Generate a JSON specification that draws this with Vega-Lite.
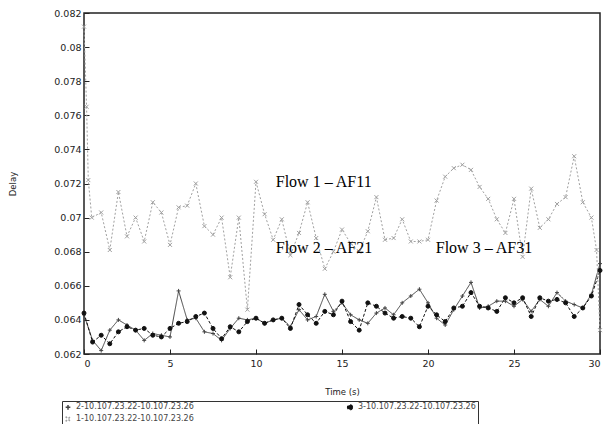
{
  "$schema": "https://vega.github.io/schema/vega-lite/v6.json",
  "width": 516,
  "height": 341,
  "autosize": {"type": "none"},
  "padding": {"left": 84, "top": 13, "right": 14, "bottom": 70},
  "background": "white",
  "config": {
    "view": {"stroke": "#222", "strokeWidth": 1.5},
    "axis": {"domain": false, "grid": false, "labelFont": "DejaVu Sans", "labelFontSize": 9.5, "labelColor": "#222", "labelOverlap": false, "labelSeparation": 0, "tickColor": "#222", "tickSize": -5, "tickWidth": 1, "titleFont": "DejaVu Sans", "titleFontSize": 8.5, "titleFontWeight": "normal", "titleColor": "#222"},
    "legend": {"labelFont": "DejaVu Sans", "labelFontSize": 8, "labelColor": "#444"}
  },
  "datasets": {
    "flows": [
      {"t": 0, "v": 0.0643, "s": "2-10.107.23.22-10.107.23.26"},
      {"t": 0.5, "v": 0.0628, "s": "2-10.107.23.22-10.107.23.26"},
      {"t": 1.0, "v": 0.0622, "s": "2-10.107.23.22-10.107.23.26"},
      {"t": 1.5, "v": 0.0634, "s": "2-10.107.23.22-10.107.23.26"},
      {"t": 2.0, "v": 0.0640, "s": "2-10.107.23.22-10.107.23.26"},
      {"t": 2.5, "v": 0.0637, "s": "2-10.107.23.22-10.107.23.26"},
      {"t": 3.0, "v": 0.0634, "s": "2-10.107.23.22-10.107.23.26"},
      {"t": 3.5, "v": 0.0628, "s": "2-10.107.23.22-10.107.23.26"},
      {"t": 4.0, "v": 0.0632, "s": "2-10.107.23.22-10.107.23.26"},
      {"t": 4.5, "v": 0.0631, "s": "2-10.107.23.22-10.107.23.26"},
      {"t": 5.0, "v": 0.0630, "s": "2-10.107.23.22-10.107.23.26"},
      {"t": 5.5, "v": 0.0657, "s": "2-10.107.23.22-10.107.23.26"},
      {"t": 6.0, "v": 0.0640, "s": "2-10.107.23.22-10.107.23.26"},
      {"t": 6.5, "v": 0.0641, "s": "2-10.107.23.22-10.107.23.26"},
      {"t": 7.0, "v": 0.0633, "s": "2-10.107.23.22-10.107.23.26"},
      {"t": 7.5, "v": 0.0632, "s": "2-10.107.23.22-10.107.23.26"},
      {"t": 8.0, "v": 0.0628, "s": "2-10.107.23.22-10.107.23.26"},
      {"t": 8.5, "v": 0.0635, "s": "2-10.107.23.22-10.107.23.26"},
      {"t": 9.0, "v": 0.0641, "s": "2-10.107.23.22-10.107.23.26"},
      {"t": 9.5, "v": 0.0640, "s": "2-10.107.23.22-10.107.23.26"},
      {"t": 10.0, "v": 0.0641, "s": "2-10.107.23.22-10.107.23.26"},
      {"t": 10.5, "v": 0.0638, "s": "2-10.107.23.22-10.107.23.26"},
      {"t": 11.0, "v": 0.0640, "s": "2-10.107.23.22-10.107.23.26"},
      {"t": 11.5, "v": 0.0641, "s": "2-10.107.23.22-10.107.23.26"},
      {"t": 12.0, "v": 0.0636, "s": "2-10.107.23.22-10.107.23.26"},
      {"t": 12.5, "v": 0.0646, "s": "2-10.107.23.22-10.107.23.26"},
      {"t": 13.0, "v": 0.0640, "s": "2-10.107.23.22-10.107.23.26"},
      {"t": 13.5, "v": 0.0642, "s": "2-10.107.23.22-10.107.23.26"},
      {"t": 14.0, "v": 0.0655, "s": "2-10.107.23.22-10.107.23.26"},
      {"t": 14.5, "v": 0.0645, "s": "2-10.107.23.22-10.107.23.26"},
      {"t": 15.0, "v": 0.0650, "s": "2-10.107.23.22-10.107.23.26"},
      {"t": 15.5, "v": 0.0643, "s": "2-10.107.23.22-10.107.23.26"},
      {"t": 16.0, "v": 0.0640, "s": "2-10.107.23.22-10.107.23.26"},
      {"t": 16.5, "v": 0.0638, "s": "2-10.107.23.22-10.107.23.26"},
      {"t": 17.0, "v": 0.0644, "s": "2-10.107.23.22-10.107.23.26"},
      {"t": 17.5, "v": 0.0647, "s": "2-10.107.23.22-10.107.23.26"},
      {"t": 18.0, "v": 0.0643, "s": "2-10.107.23.22-10.107.23.26"},
      {"t": 18.5, "v": 0.0650, "s": "2-10.107.23.22-10.107.23.26"},
      {"t": 19.0, "v": 0.0654, "s": "2-10.107.23.22-10.107.23.26"},
      {"t": 19.5, "v": 0.0658, "s": "2-10.107.23.22-10.107.23.26"},
      {"t": 20.0, "v": 0.0650, "s": "2-10.107.23.22-10.107.23.26"},
      {"t": 20.5, "v": 0.0641, "s": "2-10.107.23.22-10.107.23.26"},
      {"t": 21.0, "v": 0.0637, "s": "2-10.107.23.22-10.107.23.26"},
      {"t": 21.5, "v": 0.0646, "s": "2-10.107.23.22-10.107.23.26"},
      {"t": 22.0, "v": 0.0654, "s": "2-10.107.23.22-10.107.23.26"},
      {"t": 22.5, "v": 0.0662, "s": "2-10.107.23.22-10.107.23.26"},
      {"t": 23.0, "v": 0.0647, "s": "2-10.107.23.22-10.107.23.26"},
      {"t": 23.5, "v": 0.0648, "s": "2-10.107.23.22-10.107.23.26"},
      {"t": 24.0, "v": 0.0651, "s": "2-10.107.23.22-10.107.23.26"},
      {"t": 24.5, "v": 0.0651, "s": "2-10.107.23.22-10.107.23.26"},
      {"t": 25.0, "v": 0.0648, "s": "2-10.107.23.22-10.107.23.26"},
      {"t": 25.5, "v": 0.0652, "s": "2-10.107.23.22-10.107.23.26"},
      {"t": 26.0, "v": 0.0645, "s": "2-10.107.23.22-10.107.23.26"},
      {"t": 26.5, "v": 0.0652, "s": "2-10.107.23.22-10.107.23.26"},
      {"t": 27.0, "v": 0.0648, "s": "2-10.107.23.22-10.107.23.26"},
      {"t": 27.5, "v": 0.0656, "s": "2-10.107.23.22-10.107.23.26"},
      {"t": 28.0, "v": 0.0651, "s": "2-10.107.23.22-10.107.23.26"},
      {"t": 28.5, "v": 0.0649, "s": "2-10.107.23.22-10.107.23.26"},
      {"t": 29.0, "v": 0.0647, "s": "2-10.107.23.22-10.107.23.26"},
      {"t": 29.5, "v": 0.0655, "s": "2-10.107.23.22-10.107.23.26"},
      {"t": 30.0, "v": 0.0673, "s": "2-10.107.23.22-10.107.23.26"},

      {"t": 0, "v": 0.0644, "s": "3-10.107.23.22-10.107.23.26"},
      {"t": 0.5, "v": 0.0627, "s": "3-10.107.23.22-10.107.23.26"},
      {"t": 1.0, "v": 0.0631, "s": "3-10.107.23.22-10.107.23.26"},
      {"t": 1.5, "v": 0.0626, "s": "3-10.107.23.22-10.107.23.26"},
      {"t": 2.0, "v": 0.0633, "s": "3-10.107.23.22-10.107.23.26"},
      {"t": 2.5, "v": 0.0636, "s": "3-10.107.23.22-10.107.23.26"},
      {"t": 3.0, "v": 0.0634, "s": "3-10.107.23.22-10.107.23.26"},
      {"t": 3.5, "v": 0.0635, "s": "3-10.107.23.22-10.107.23.26"},
      {"t": 4.0, "v": 0.0631, "s": "3-10.107.23.22-10.107.23.26"},
      {"t": 4.5, "v": 0.0630, "s": "3-10.107.23.22-10.107.23.26"},
      {"t": 5.0, "v": 0.0635, "s": "3-10.107.23.22-10.107.23.26"},
      {"t": 5.5, "v": 0.0638, "s": "3-10.107.23.22-10.107.23.26"},
      {"t": 6.0, "v": 0.0639, "s": "3-10.107.23.22-10.107.23.26"},
      {"t": 6.5, "v": 0.0642, "s": "3-10.107.23.22-10.107.23.26"},
      {"t": 7.0, "v": 0.0644, "s": "3-10.107.23.22-10.107.23.26"},
      {"t": 7.5, "v": 0.0635, "s": "3-10.107.23.22-10.107.23.26"},
      {"t": 8.0, "v": 0.0629, "s": "3-10.107.23.22-10.107.23.26"},
      {"t": 8.5, "v": 0.0636, "s": "3-10.107.23.22-10.107.23.26"},
      {"t": 9.0, "v": 0.0633, "s": "3-10.107.23.22-10.107.23.26"},
      {"t": 9.5, "v": 0.0639, "s": "3-10.107.23.22-10.107.23.26"},
      {"t": 10.0, "v": 0.0641, "s": "3-10.107.23.22-10.107.23.26"},
      {"t": 10.5, "v": 0.0638, "s": "3-10.107.23.22-10.107.23.26"},
      {"t": 11.0, "v": 0.0640, "s": "3-10.107.23.22-10.107.23.26"},
      {"t": 11.5, "v": 0.0641, "s": "3-10.107.23.22-10.107.23.26"},
      {"t": 12.0, "v": 0.0635, "s": "3-10.107.23.22-10.107.23.26"},
      {"t": 12.5, "v": 0.0649, "s": "3-10.107.23.22-10.107.23.26"},
      {"t": 13.0, "v": 0.0643, "s": "3-10.107.23.22-10.107.23.26"},
      {"t": 13.5, "v": 0.0638, "s": "3-10.107.23.22-10.107.23.26"},
      {"t": 14.0, "v": 0.0645, "s": "3-10.107.23.22-10.107.23.26"},
      {"t": 14.5, "v": 0.0643, "s": "3-10.107.23.22-10.107.23.26"},
      {"t": 15.0, "v": 0.0651, "s": "3-10.107.23.22-10.107.23.26"},
      {"t": 15.5, "v": 0.0639, "s": "3-10.107.23.22-10.107.23.26"},
      {"t": 16.0, "v": 0.0634, "s": "3-10.107.23.22-10.107.23.26"},
      {"t": 16.5, "v": 0.0650, "s": "3-10.107.23.22-10.107.23.26"},
      {"t": 17.0, "v": 0.0648, "s": "3-10.107.23.22-10.107.23.26"},
      {"t": 17.5, "v": 0.0644, "s": "3-10.107.23.22-10.107.23.26"},
      {"t": 18.0, "v": 0.0641, "s": "3-10.107.23.22-10.107.23.26"},
      {"t": 18.5, "v": 0.0642, "s": "3-10.107.23.22-10.107.23.26"},
      {"t": 19.0, "v": 0.0641, "s": "3-10.107.23.22-10.107.23.26"},
      {"t": 19.5, "v": 0.0636, "s": "3-10.107.23.22-10.107.23.26"},
      {"t": 20.0, "v": 0.0648, "s": "3-10.107.23.22-10.107.23.26"},
      {"t": 20.5, "v": 0.0643, "s": "3-10.107.23.22-10.107.23.26"},
      {"t": 21.0, "v": 0.0639, "s": "3-10.107.23.22-10.107.23.26"},
      {"t": 21.5, "v": 0.0647, "s": "3-10.107.23.22-10.107.23.26"},
      {"t": 22.0, "v": 0.0648, "s": "3-10.107.23.22-10.107.23.26"},
      {"t": 22.5, "v": 0.0656, "s": "3-10.107.23.22-10.107.23.26"},
      {"t": 23.0, "v": 0.0648, "s": "3-10.107.23.22-10.107.23.26"},
      {"t": 23.5, "v": 0.0647, "s": "3-10.107.23.22-10.107.23.26"},
      {"t": 24.0, "v": 0.0645, "s": "3-10.107.23.22-10.107.23.26"},
      {"t": 24.5, "v": 0.0653, "s": "3-10.107.23.22-10.107.23.26"},
      {"t": 25.0, "v": 0.0650, "s": "3-10.107.23.22-10.107.23.26"},
      {"t": 25.5, "v": 0.0653, "s": "3-10.107.23.22-10.107.23.26"},
      {"t": 26.0, "v": 0.0642, "s": "3-10.107.23.22-10.107.23.26"},
      {"t": 26.5, "v": 0.0653, "s": "3-10.107.23.22-10.107.23.26"},
      {"t": 27.0, "v": 0.0651, "s": "3-10.107.23.22-10.107.23.26"},
      {"t": 27.5, "v": 0.0652, "s": "3-10.107.23.22-10.107.23.26"},
      {"t": 28.0, "v": 0.0650, "s": "3-10.107.23.22-10.107.23.26"},
      {"t": 28.5, "v": 0.0642, "s": "3-10.107.23.22-10.107.23.26"},
      {"t": 29.0, "v": 0.0647, "s": "3-10.107.23.22-10.107.23.26"},
      {"t": 29.5, "v": 0.0654, "s": "3-10.107.23.22-10.107.23.26"},
      {"t": 30.0, "v": 0.0669, "s": "3-10.107.23.22-10.107.23.26"},

      {"t": 0, "v": 0.0812, "s": "1-10.107.23.22-10.107.23.26"},
      {"t": 0.15, "v": 0.0765, "s": "1-10.107.23.22-10.107.23.26"},
      {"t": 0.25, "v": 0.0722, "s": "1-10.107.23.22-10.107.23.26"},
      {"t": 0.45, "v": 0.0700, "s": "1-10.107.23.22-10.107.23.26"},
      {"t": 1.0, "v": 0.0703, "s": "1-10.107.23.22-10.107.23.26"},
      {"t": 1.5, "v": 0.0681, "s": "1-10.107.23.22-10.107.23.26"},
      {"t": 2.0, "v": 0.0715, "s": "1-10.107.23.22-10.107.23.26"},
      {"t": 2.5, "v": 0.0689, "s": "1-10.107.23.22-10.107.23.26"},
      {"t": 3.0, "v": 0.0700, "s": "1-10.107.23.22-10.107.23.26"},
      {"t": 3.5, "v": 0.0686, "s": "1-10.107.23.22-10.107.23.26"},
      {"t": 4.0, "v": 0.0709, "s": "1-10.107.23.22-10.107.23.26"},
      {"t": 4.5, "v": 0.0703, "s": "1-10.107.23.22-10.107.23.26"},
      {"t": 5.0, "v": 0.0684, "s": "1-10.107.23.22-10.107.23.26"},
      {"t": 5.5, "v": 0.0706, "s": "1-10.107.23.22-10.107.23.26"},
      {"t": 6.0, "v": 0.0707, "s": "1-10.107.23.22-10.107.23.26"},
      {"t": 6.5, "v": 0.0720, "s": "1-10.107.23.22-10.107.23.26"},
      {"t": 7.0, "v": 0.0695, "s": "1-10.107.23.22-10.107.23.26"},
      {"t": 7.5, "v": 0.0690, "s": "1-10.107.23.22-10.107.23.26"},
      {"t": 8.0, "v": 0.0700, "s": "1-10.107.23.22-10.107.23.26"},
      {"t": 8.5, "v": 0.0665, "s": "1-10.107.23.22-10.107.23.26"},
      {"t": 9.0, "v": 0.0700, "s": "1-10.107.23.22-10.107.23.26"},
      {"t": 9.5, "v": 0.0646, "s": "1-10.107.23.22-10.107.23.26"},
      {"t": 10.0, "v": 0.0721, "s": "1-10.107.23.22-10.107.23.26"},
      {"t": 10.5, "v": 0.0702, "s": "1-10.107.23.22-10.107.23.26"},
      {"t": 11.0, "v": 0.0687, "s": "1-10.107.23.22-10.107.23.26"},
      {"t": 11.5, "v": 0.0699, "s": "1-10.107.23.22-10.107.23.26"},
      {"t": 12.0, "v": 0.0678, "s": "1-10.107.23.22-10.107.23.26"},
      {"t": 12.5, "v": 0.0691, "s": "1-10.107.23.22-10.107.23.26"},
      {"t": 13.0, "v": 0.0709, "s": "1-10.107.23.22-10.107.23.26"},
      {"t": 13.5, "v": 0.0688, "s": "1-10.107.23.22-10.107.23.26"},
      {"t": 14.0, "v": 0.0670, "s": "1-10.107.23.22-10.107.23.26"},
      {"t": 14.5, "v": 0.0680, "s": "1-10.107.23.22-10.107.23.26"},
      {"t": 15.0, "v": 0.0693, "s": "1-10.107.23.22-10.107.23.26"},
      {"t": 15.5, "v": 0.0685, "s": "1-10.107.23.22-10.107.23.26"},
      {"t": 16.0, "v": 0.0680, "s": "1-10.107.23.22-10.107.23.26"},
      {"t": 16.5, "v": 0.0692, "s": "1-10.107.23.22-10.107.23.26"},
      {"t": 17.0, "v": 0.0712, "s": "1-10.107.23.22-10.107.23.26"},
      {"t": 17.5, "v": 0.0687, "s": "1-10.107.23.22-10.107.23.26"},
      {"t": 18.0, "v": 0.0688, "s": "1-10.107.23.22-10.107.23.26"},
      {"t": 18.5, "v": 0.0699, "s": "1-10.107.23.22-10.107.23.26"},
      {"t": 19.0, "v": 0.0686, "s": "1-10.107.23.22-10.107.23.26"},
      {"t": 19.5, "v": 0.0686, "s": "1-10.107.23.22-10.107.23.26"},
      {"t": 20.0, "v": 0.0687, "s": "1-10.107.23.22-10.107.23.26"},
      {"t": 20.5, "v": 0.0710, "s": "1-10.107.23.22-10.107.23.26"},
      {"t": 21.0, "v": 0.0724, "s": "1-10.107.23.22-10.107.23.26"},
      {"t": 21.5, "v": 0.0729, "s": "1-10.107.23.22-10.107.23.26"},
      {"t": 22.0, "v": 0.0731, "s": "1-10.107.23.22-10.107.23.26"},
      {"t": 22.5, "v": 0.0728, "s": "1-10.107.23.22-10.107.23.26"},
      {"t": 23.0, "v": 0.0718, "s": "1-10.107.23.22-10.107.23.26"},
      {"t": 23.5, "v": 0.0711, "s": "1-10.107.23.22-10.107.23.26"},
      {"t": 24.0, "v": 0.0699, "s": "1-10.107.23.22-10.107.23.26"},
      {"t": 24.5, "v": 0.0691, "s": "1-10.107.23.22-10.107.23.26"},
      {"t": 25.0, "v": 0.0711, "s": "1-10.107.23.22-10.107.23.26"},
      {"t": 25.5, "v": 0.0677, "s": "1-10.107.23.22-10.107.23.26"},
      {"t": 26.0, "v": 0.0717, "s": "1-10.107.23.22-10.107.23.26"},
      {"t": 26.5, "v": 0.0694, "s": "1-10.107.23.22-10.107.23.26"},
      {"t": 27.0, "v": 0.0699, "s": "1-10.107.23.22-10.107.23.26"},
      {"t": 27.5, "v": 0.0708, "s": "1-10.107.23.22-10.107.23.26"},
      {"t": 28.0, "v": 0.0712, "s": "1-10.107.23.22-10.107.23.26"},
      {"t": 28.5, "v": 0.0736, "s": "1-10.107.23.22-10.107.23.26"},
      {"t": 29.0, "v": 0.0709, "s": "1-10.107.23.22-10.107.23.26"},
      {"t": 29.5, "v": 0.0700, "s": "1-10.107.23.22-10.107.23.26"},
      {"t": 29.8, "v": 0.0681, "s": "1-10.107.23.22-10.107.23.26"},
      {"t": 30.0, "v": 0.0634, "s": "1-10.107.23.22-10.107.23.26"}
    ],
    "notes": [
      {"t": 11.15, "v": 0.0721, "label": "Flow 1 – AF11"},
      {"t": 11.15, "v": 0.0682, "label": "Flow 2 – AF21"},
      {"t": 20.45, "v": 0.0682, "label": "Flow 3 – AF31"}
    ]
  },
  "layer": [
    {
      "data": {"name": "flows"},
      "mark": {"type": "line", "strokeWidth": 1},
      "encoding": {
        "x": {"field": "t", "type": "quantitative", "scale": {"domain": [0, 30], "nice": false}, "axis": {"title": "Time (s)", "values": [0, 5, 10, 15, 20, 25, 30], "labelPadding": 9, "titlePadding": 20}},
        "y": {"field": "v", "type": "quantitative", "scale": {"domain": [0.062, 0.082], "nice": false, "zero": false}, "axis": {"title": "Delay", "values": [0.062, 0.064, 0.066, 0.068, 0.07, 0.072, 0.074, 0.076, 0.078, 0.08, 0.082], "tickCount": 11, "labelOverlap": false, "format": ".3~f", "labelPadding": 8, "titlePadding": 36}},
        "color": {"field": "s", "type": "nominal", "scale": {"domain": ["2-10.107.23.22-10.107.23.26", "3-10.107.23.22-10.107.23.26", "1-10.107.23.22-10.107.23.26"], "range": ["#444444", "#111111", "#a0a0a0"]}, "legend": {"title": null, "orient": "none", "legendX": -22, "legendY": 388, "direction": "horizontal", "columns": 2, "columnPadding": 150, "rowPadding": 0, "strokeColor": "#333", "padding": 2, "symbolSize": 22, "labelLimit": 300}},
        "strokeDash": {"field": "s", "type": "nominal", "scale": {"domain": ["2-10.107.23.22-10.107.23.26", "3-10.107.23.22-10.107.23.26", "1-10.107.23.22-10.107.23.26"], "range": [[1, 0], [3, 2], [2, 2]]}, "legend": null}
      }
    },
    {
      "data": {"name": "flows"},
      "mark": {"type": "point", "size": 16, "strokeWidth": 1, "opacity": 1},
      "encoding": {
        "x": {"field": "t", "type": "quantitative"},
        "y": {"field": "v", "type": "quantitative"},
        "color": {"field": "s", "type": "nominal"},
        "shape": {"field": "s", "type": "nominal", "scale": {"domain": ["2-10.107.23.22-10.107.23.26", "3-10.107.23.22-10.107.23.26", "1-10.107.23.22-10.107.23.26"], "range": ["M-1,0L1,0M0,-1L0,1", "circle", "M-1,-1L1,1M-1,1L1,-1"]}, "legend": null},
        "fill": {"field": "s", "type": "nominal", "scale": {"domain": ["2-10.107.23.22-10.107.23.26", "3-10.107.23.22-10.107.23.26", "1-10.107.23.22-10.107.23.26"], "range": ["transparent", "#111111", "transparent"]}, "legend": null}
      }
    },
    {
      "data": {"name": "notes"},
      "mark": {"type": "text", "align": "left", "baseline": "middle", "font": "Liberation Serif", "fontSize": 16, "color": "black"},
      "encoding": {
        "x": {"field": "t", "type": "quantitative"},
        "y": {"field": "v", "type": "quantitative"},
        "text": {"field": "label"}
      }
    }
  ]
}
